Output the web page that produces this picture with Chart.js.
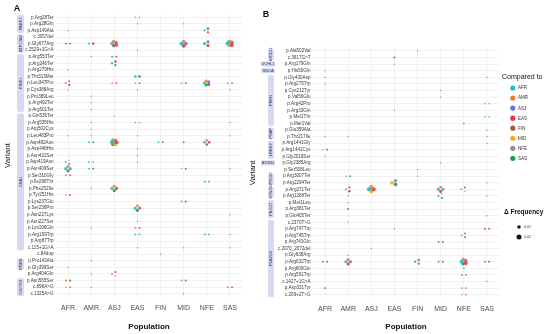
<!DOCTYPE html>
<html>
<head>
<meta charset="utf-8">
<script src="https://cdn.jsdelivr.net/npm/chart.js@4.4.0/dist/chart.umd.min.js"></script>
<style>
  body { margin: 0; background: #fff; width: 550px; height: 334px; overflow: hidden; position: relative; }
  #ca { position: absolute; left: 0; top: 0; }
  #cb { position: absolute; left: 245px; top: 0; }
</style>
</head>
<body>
<canvas id="ca" width="250" height="334"></canvas>
<canvas id="cb" width="305" height="334"></canvas>
<script>
const FONT = "'Liberation Sans', Arial, sans-serif";

// ----- categories -----
const populations = ['AFR', 'AMR', 'ASJ', 'EAS', 'FIN', 'MID', 'NFE', 'SAS'];
const comparedTo = ['AFR', 'AMR', 'ASJ', 'EAS', 'FIN', 'MID', 'NFE', 'SAS'];
const compColors = ['#20bfc8', '#ef7d30', '#6c6fe2', '#e5383d', '#a35a4f', '#f4ad2b', '#8f8f8f', '#1f9d4b'];
const sizeBreaks = [0.01, 0.02];

const variantsA = ['p.Arg28Ter', 'p.Arg28Gln', 'p.Asp149Ala', 'c.3057del', 'p.Gly677Arg', 'c.2529+1G>A',
  'p.Arg553Ter', 'p.Arg246Ter', 'p.Arg279His', 'p.Thr313Met', 'p.Leu347Pro', 'p.Cys388Arg', 'p.Pro389Leu',
  'p.Arg492Ter', 'p.Arg501Ter', 'p.Gln536Ter', 'p.Arg535His', 'p.Arg502Cys', 'p.Leu483Pro', 'p.Asp482Asn',
  'p.Asp448His', 'p.Asn431Ser', 'p.Asp419Asn', 'p.Asn409Ser', 'p.Ser310Gly', 'p.Ile298Thr', 'p.Phe252Ile',
  'p.Tyr251His', 'p.Lys237Glu', 'p.Ser236Pro', 'p.Asn227Lys', 'p.Asn227Ser', 'p.Lys196Gln', 'p.Arg159Trp',
  'p.Arg87Trp', 'c.115+1G>A', 'c.84dup', 'p.Pro143Ala', 'p.Gly399Ser', 'p.Arg404Gln', 'p.Asn565Ser',
  'c.896A>G', 'c.1325A>G'];
// gene, first row, last row
const genesA = [['PARK7', 0, 2], ['ATP13A2', 3, 5], ['PINK1', 6, 14], ['GBA1', 15, 35],
  ['PRKN', 37, 38], ['GIGYF2', 40, 42]];

const variantsB = ['p.Ala502Val', 'c.3617G>T', 'p.Arg179Gln', 'p.His50Gln', 'p.Gly430Asp', 'p.Arg275Trp',
  'p.Cys212Tyr', 'p.Val56Glu', 'p.Arg42Pro', 'p.Arg33Gln', 'p.Met1Thr', 'p.Met1Val', 'p.Glu359Ala',
  'p.Thr217Ile', 'p.Arg1441Gly', 'p.Arg1441Cys', 'p.Gly2019Ser', 'p.Gly2385Arg', 'p.Ser508Leu',
  'p.Arg3007Ter', 'p.Arg2294Ter', 'p.Arg271Ter', 'p.Arg1288Ter', 'p.Met1Leu', 'p.Arg381Ter', 'p.Glu405Ter',
  'c.2370T>G', 'p.Arg747Trp', 'p.Arg745Trp', 'p.Arg741Gln', 'c.2070_2072del', 'p.Gly638Arg', 'p.Arg632Trp',
  'p.Arg600Gln', 'p.Arg591Trp', 'c.1427+1G>A', 'p.Asp331Tyr', 'c.209+2T>G'];
const genesB = [['EIF4G1', 0, 1], ['UCHL1', 2, 2], ['SNCA', 3, 3], ['PRKN', 4, 11], ['PSAP', 12, 13],
  ['LRRK2', 14, 16], ['ATXN2', 17, 17], ['VPS13C', 19, 20], ['SYNJ1', 21, 22], ['FBXO7', 23, 25],
  ['PLA2G6', 26, 37]];

// ----- series: [variant, population, delta frequency] per "compared to" group -----
const afrA = [['p.Arg28Ter', 'EAS', 0.002], ['p.Asp149Ala', 'NFE', 0.004], ['p.Gly677Arg', 'AMR', 0.004],
  ['p.Gly677Arg', 'ASJ', 0.01], ['p.Gly677Arg', 'MID', 0.012], ['p.Gly677Arg', 'NFE', 0.008],
  ['p.Gly677Arg', 'SAS', 0.014], ['p.Arg553Ter', 'ASJ', 0.004], ['p.Arg246Ter', 'ASJ', 0.005],
  ['p.Thr313Met', 'EAS', 0.006], ['p.Leu347Pro', 'NFE', 0.008], ['p.Arg535His', 'EAS', 0.002],
  ['p.Arg535His', 'EAS', 0.002], ['p.Asp482Asn', 'AMR', 0.003], ['p.Asp482Asn', 'ASJ', 0.014],
  ['p.Asp482Asn', 'FIN', 0.003], ['p.Asp482Asn', 'NFE', 0.006], ['p.Asp419Asn', 'AFR', 0.003],
  ['p.Asp419Asn', 'AMR', 0.003], ['p.Asn409Ser', 'AFR', 0.008], ['p.Asn409Ser', 'AMR', 0.003],
  ['p.Ile298Thr', 'NFE', 0.004], ['p.Phe252Ile', 'ASJ', 0.008], ['p.Ser236Pro', 'EAS', 0.008],
  ['p.Arg159Trp', 'EAS', 0.003], ['p.Arg159Trp', 'EAS', 0.003], ['p.Arg159Trp', 'NFE', 0.003],
  ['p.Arg159Trp', 'NFE', 0.003]];
const amrA = [['p.Gly677Arg', 'ASJ', 0.01], ['p.Gly677Arg', 'MID', 0.01], ['p.Gly677Arg', 'SAS', 0.012],
  ['p.Leu347Pro', 'AFR', 0.004], ['p.Leu347Pro', 'ASJ', 0.003], ['p.Leu347Pro', 'EAS', 0.003],
  ['p.Leu347Pro', 'MID', 0.003], ['p.Leu347Pro', 'NFE', 0.008], ['p.Leu347Pro', 'SAS', 0.003],
  ['p.Asp482Asn', 'ASJ', 0.014], ['p.Asp482Asn', 'NFE', 0.005], ['p.Asn409Ser', 'AFR', 0.008],
  ['p.Ser310Gly', 'AFR', 0.003], ['p.Ile298Thr', 'NFE', 0.003], ['p.Phe252Ile', 'ASJ', 0.008],
  ['p.Tyr251His', 'AFR', 0.002], ['p.Lys237Glu', 'MID', 0.003], ['p.Ser236Pro', 'EAS', 0.006],
  ['p.Lys196Gln', 'EAS', 0.003], ['p.Arg404Gln', 'ASJ', 0.003], ['p.Asn565Ser', 'AFR', 0.004],
  ['p.Asn565Ser', 'MID', 0.003], ['c.896A>G', 'AFR', 0.002], ['c.896A>G', 'SAS', 0.003]];
const asjA = [['p.Asp149Ala', 'NFE', 0.006], ['p.Gly677Arg', 'ASJ', 0.008], ['p.Gly677Arg', 'MID', 0.01],
  ['p.Gly677Arg', 'NFE', 0.008], ['p.Gly677Arg', 'SAS', 0.012], ['p.Leu347Pro', 'AFR', 0.003],
  ['p.Leu347Pro', 'NFE', 0.008], ['p.Asp482Asn', 'ASJ', 0.01], ['p.Asn409Ser', 'AFR', 0.006]];
const easA = [['p.Asp149Ala', 'NFE', 0.004], ['p.Gly677Arg', 'AFR', 0.003], ['p.Gly677Arg', 'AMR', 0.005],
  ['p.Gly677Arg', 'ASJ', 0.012], ['p.Gly677Arg', 'MID', 0.012], ['p.Gly677Arg', 'NFE', 0.008],
  ['p.Gly677Arg', 'SAS', 0.014], ['p.Arg553Ter', 'ASJ', 0.003], ['p.Arg246Ter', 'ASJ', 0.005],
  ['p.Leu347Pro', 'AFR', 0.004], ['p.Leu347Pro', 'ASJ', 0.003], ['p.Leu347Pro', 'EAS', 0.003],
  ['p.Leu347Pro', 'MID', 0.003], ['p.Leu347Pro', 'NFE', 0.008], ['p.Leu347Pro', 'SAS', 0.003],
  ['p.Asp482Asn', 'ASJ', 0.012], ['p.Asp482Asn', 'NFE', 0.006], ['p.Asp419Asn', 'AMR', 0.002],
  ['p.Ser310Gly', 'AFR', 0.003], ['p.Phe252Ile', 'ASJ', 0.008], ['p.Tyr251His', 'AFR', 0.003],
  ['p.Lys237Glu', 'MID', 0.003], ['p.Ser236Pro', 'EAS', 0.006], ['p.Lys196Gln', 'EAS', 0.003],
  ['p.Arg404Gln', 'ASJ', 0.003], ['c.896A>G', 'AFR', 0.002], ['c.896A>G', 'SAS', 0.003]];
const finA = [['p.Gly677Arg', 'AFR', 0.003], ['p.Gly677Arg', 'ASJ', 0.008]];
const midA = [['p.Gly677Arg', 'SAS', 0.01], ['p.Asp482Asn', 'ASJ', 0.012]];
const nfeA = [['p.Arg28Ter', 'EAS', 0.002], ['p.Arg28Gln', 'EAS', 0.001], ['p.Arg28Gln', 'MID', 0.001],
  ['p.Asp149Ala', 'AFR', 0.001], ['c.2529+1G>A', 'EAS', 0.001], ['p.Arg553Ter', 'AMR', 0.001],
  ['p.Arg279His', 'AFR', 0.001], ['p.Cys388Arg', 'AFR', 0.001], ['p.Cys388Arg', 'EAS', 0.001],
  ['p.Cys388Arg', 'SAS', 0.001], ['p.Pro389Leu', 'AMR', 0.001], ['p.Arg492Ter', 'AMR', 0.001],
  ['p.Arg501Ter', 'AMR', 0.001], ['p.Gln536Ter', 'ASJ', 0.001], ['p.Arg535His', 'AMR', 0.001],
  ['p.Arg535His', 'SAS', 0.001], ['p.Arg502Cys', 'AMR', 0.001], ['p.Leu483Pro', 'AFR', 0.001],
  ['p.Leu483Pro', 'AMR', 0.001], ['p.Leu483Pro', 'EAS', 0.001], ['p.Leu483Pro', 'SAS', 0.001],
  ['p.Asp448His', 'EAS', 0.001], ['p.Asn431Ser', 'EAS', 0.001], ['p.Asp419Asn', 'AFR', 0.0015],
  ['p.Asp419Asn', 'EAS', 0.001], ['p.Asn409Ser', 'MID', 0.0015], ['p.Asn409Ser', 'SAS', 0.001],
  ['p.Phe252Ile', 'AMR', 0.001], ['p.Asn227Lys', 'SAS', 0.001], ['p.Asn227Ser', 'EAS', 0.001],
  ['p.Lys196Gln', 'AMR', 0.001], ['p.Arg159Trp', 'SAS', 0.001], ['c.115+1G>A', 'EAS', 0.001],
  ['c.115+1G>A', 'MID', 0.001], ['c.115+1G>A', 'SAS', 0.001], ['c.84dup', 'FIN', 0.001],
  ['p.Pro143Ala', 'AMR', 0.001], ['p.Gly399Ser', 'AFR', 0.001], ['p.Arg404Gln', 'AMR', 0.001],
  ['p.Arg404Gln', 'ASJ', 0.0015], ['c.896A>G', 'AMR', 0.001], ['c.1325A>G', 'MID', 0.001]];
const sasA = [['p.Arg246Ter', 'ASJ', 0.004], ['p.Thr313Met', 'EAS', 0.006], ['p.Leu347Pro', 'NFE', 0.006],
  ['p.Asp482Asn', 'AMR', 0.003], ['p.Asp482Asn', 'ASJ', 0.014], ['p.Asp482Asn', 'FIN', 0.003],
  ['p.Asp482Asn', 'MID', 0.003], ['p.Asp482Asn', 'NFE', 0.005], ['p.Asp419Asn', 'AFR', 0.003],
  ['p.Asn409Ser', 'AFR', 0.008], ['p.Asn409Ser', 'AMR', 0.003], ['p.Asn409Ser', 'MID', 0.003],
  ['p.Phe252Ile', 'ASJ', 0.008], ['p.Ser236Pro', 'EAS', 0.008], ['p.Asn565Ser', 'AFR', 0.004],
  ['p.Asn565Ser', 'MID', 0.003]];

const afrB = [['p.Arg42Pro', 'SAS', 0.002], ['p.Met1Thr', 'SAS', 0.002], ['p.Met1Thr', 'SAS', 0.002],
  ['p.Met1Val', 'NFE', 0.003], ['p.Arg271Ter', 'AMR', 0.004], ['p.Arg271Ter', 'ASJ', 0.014],
  ['p.Arg271Ter', 'MID', 0.008], ['p.Arg271Ter', 'NFE', 0.003], ['p.Arg1288Ter', 'MID', 0.004],
  ['p.Arg632Trp', 'AMR', 0.008], ['p.Arg632Trp', 'FIN', 0.005], ['p.Arg632Trp', 'NFE', 0.012],
  ['p.Arg600Gln', 'NFE', 0.003], ['p.Arg591Trp', 'NFE', 0.003], ['p.Arg591Trp', 'NFE', 0.003]];
const amrB = [['p.Arg271Ter', 'ASJ', 0.014], ['p.Arg271Ter', 'MID', 0.006], ['p.Arg745Trp', 'NFE', 0.003],
  ['p.Arg632Trp', 'AMR', 0.008], ['p.Arg632Trp', 'NFE', 0.012], ['p.Asp331Tyr', 'NFE', 0.003],
  ['c.209+2T>G', 'NFE', 0.002]];
const asjB = [['p.Arg271Ter', 'AMR', 0.004], ['p.Arg271Ter', 'MID', 0.006], ['p.Arg741Gln', 'MID', 0.003],
  ['p.Arg632Trp', 'AFR', 0.003], ['p.Arg632Trp', 'AMR', 0.008], ['p.Arg632Trp', 'FIN', 0.005],
  ['p.Arg632Trp', 'MID', 0.003], ['p.Arg632Trp', 'NFE', 0.01], ['p.Arg632Trp', 'SAS', 0.003]];
const easB = [['p.Arg271Ter', 'AMR', 0.005], ['p.Arg271Ter', 'ASJ', 0.014], ['p.Arg271Ter', 'MID', 0.008],
  ['p.Arg271Ter', 'NFE', 0.003], ['p.Arg747Trp', 'SAS', 0.003], ['p.Arg745Trp', 'NFE', 0.003],
  ['p.Arg741Gln', 'MID', 0.003], ['p.Arg632Trp', 'AFR', 0.003], ['p.Arg632Trp', 'AMR', 0.008],
  ['p.Arg632Trp', 'FIN', 0.004], ['p.Arg632Trp', 'MID', 0.003], ['p.Arg632Trp', 'NFE', 0.014],
  ['p.Arg632Trp', 'SAS', 0.003], ['p.Asp331Tyr', 'AFR', 0.003], ['p.Asp331Tyr', 'NFE', 0.002],
  ['c.209+2T>G', 'NFE', 0.002]];
const finB = [['p.Arg747Trp', 'SAS', 0.003]];
const midB = [['p.Arg271Ter', 'ASJ', 0.012], ['p.Arg2294Ter', 'EAS', 0.012]];
const nfeB = [['p.Ala502Val', 'FIN', 0.001], ['p.Arg179Gln', 'EAS', 0.001], ['p.His50Gln', 'AFR', 0.001],
  ['p.Gly430Asp', 'AFR', 0.001], ['p.Gly430Asp', 'SAS', 0.001], ['p.Arg275Trp', 'AFR', 0.001],
  ['p.Cys212Tyr', 'MID', 0.001], ['p.Val56Glu', 'MID', 0.001], ['p.Arg42Pro', 'SAS', 0.0015],
  ['p.Arg33Gln', 'EAS', 0.001], ['p.Glu359Ala', 'SAS', 0.001], ['p.Thr217Ile', 'AFR', 0.001],
  ['p.Thr217Ile', 'AMR', 0.001], ['p.Thr217Ile', 'SAS', 0.001], ['p.Arg1441Gly', 'SAS', 0.001],
  ['p.Arg1441Cys', 'AFR', 0.0015], ['p.Gly2019Ser', 'AFR', 0.001], ['p.Gly2385Arg', 'MID', 0.001],
  ['p.Ser508Leu', 'FIN', 0.001], ['p.Arg3007Ter', 'AMR', 0.0015], ['p.Arg3007Ter', 'FIN', 0.001],
  ['p.Arg2294Ter', 'EAS', 0.01], ['p.Arg2294Ter', 'SAS', 0.001], ['p.Arg271Ter', 'NFE', 0.0015],
  ['p.Arg1288Ter', 'AMR', 0.001], ['p.Arg1288Ter', 'MID', 0.002], ['p.Arg1288Ter', 'SAS', 0.001],
  ['p.Met1Leu', 'AMR', 0.001], ['p.Glu405Ter', 'SAS', 0.001], ['c.2370T>G', 'AMR', 0.001],
  ['p.Arg747Trp', 'EAS', 0.001], ['c.2070_2072del', 'ASJ', 0.001], ['p.Gly638Arg', 'AMR', 0.001],
  ['c.1427+1G>A', 'SAS', 0.001]];
const sasB = [['c.3617G>T', 'EAS', 0.003], ['p.Arg1441Cys', 'AFR', 0.003], ['p.Arg3007Ter', 'AMR', 0.003],
  ['p.Arg2294Ter', 'EAS', 0.01], ['p.Arg1288Ter', 'MID', 0.004], ['p.Arg381Ter', 'AMR', 0.003],
  ['p.Arg745Trp', 'NFE', 0.003], ['p.Arg632Trp', 'NFE', 0.01]];

const seriesA = [afrA, amrA, asjA, easA, finA, midA, nfeA, sasA];
const seriesB = [afrB, amrB, asjB, easB, finB, midB, nfeB, sasB];

function radius(d) { return Math.max(0.75, 2.5 * Math.sqrt(d / 0.02)); }

// dodge points that share a variant/population cell (like a small position_dodge)
function buildPoints(variants, series) {
  const pts = [];
  series.forEach((list, k) => list.forEach(([v, p, d]) => {
    pts.push({ k, vi: variants.indexOf(v), pi: populations.indexOf(p), d });
  }));
  const cells = {};
  pts.forEach(pt => { (cells[pt.vi + '|' + pt.pi] = cells[pt.vi + '|' + pt.pi] || []).push(pt); });
  Object.values(cells).forEach(g => {
    const n = g.length;
    g.forEach((pt, i) => {
      let dx = 0, dy = 0;
      if (n === 2) dx = (i === 0 ? -1 : 1) * 0.09;
      else if (n > 2) {
        const a = Math.PI + i * 2 * Math.PI / n;
        dx = Math.cos(a) * 0.1;
        dy = Math.sin(a) * 0.33;
      }
      pt.x = pt.pi + dx;
      pt.y = pt.vi + dy;
    });
  });
  return comparedTo.map((c, k) => pts.filter(pt => pt.k === k));
}

function drawStrips(chart, genes, stripX, stripW, wideX, wideW) {
  const ctx = chart.ctx, ys = chart.scales.y;
  const step = Math.abs(ys.getPixelForValue(1) - ys.getPixelForValue(0));
  ctx.save();
  genes.forEach(([name, a, b]) => {
    const top = ys.getPixelForValue(a) - step / 2 + 0.7;
    const bot = ys.getPixelForValue(b) + step / 2 - 0.7;
    ctx.fillStyle = '#d6daf0';
    ctx.beginPath();
    if (a === b && wideW) {
      ctx.roundRect(wideX, top, wideW, bot - top, 1.5);
      ctx.fill();
      ctx.fillStyle = '#2f3563';
      ctx.font = '4px ' + FONT;
      ctx.textAlign = 'center';
      ctx.textBaseline = 'middle';
      ctx.fillText(name, wideX + wideW / 2, (top + bot) / 2 + 0.2);
    } else {
      ctx.roundRect(stripX, top, stripW, bot - top, 2);
      ctx.fill();
      ctx.save();
      ctx.translate(stripX + stripW / 2, (top + bot) / 2);
      ctx.rotate(-Math.PI / 2);
      ctx.fillStyle = '#2f3563';
      ctx.font = '4px ' + FONT;
      ctx.textAlign = 'center';
      ctx.textBaseline = 'middle';
      ctx.fillText(name, 0, 0.3);
      ctx.restore();
    }
  });
  ctx.restore();
}

function drawTitles(chart, letter, lx, ly, varX) {
  const ctx = chart.ctx, ca = chart.chartArea;
  ctx.save();
  ctx.fillStyle = '#111';
  ctx.font = 'bold 9px ' + FONT;
  ctx.textAlign = 'center';
  ctx.textBaseline = 'middle';
  ctx.fillText(letter, lx, ly);
  ctx.font = 'bold 8px ' + FONT;
  ctx.fillText('Population', (ca.left + ca.right) / 2, 327);
  ctx.translate(varX, (ca.top + ca.bottom) / 2);
  ctx.rotate(-Math.PI / 2);
  ctx.font = '8px ' + FONT;
  ctx.fillText('Variant', 0, 0);
  ctx.restore();
}

function drawLegend(chart) {
  const ctx = chart.ctx;
  ctx.save();
  ctx.fillStyle = '#111';
  ctx.textBaseline = 'middle';
  ctx.textAlign = 'left';
  ctx.font = '7px ' + FONT;
  ctx.fillText('Compared to', 257, 77);
  comparedTo.forEach((c, i) => {
    const y = 88 + i * 10.05;
    ctx.fillStyle = compColors[i];
    ctx.beginPath();
    ctx.arc(267.8, y, 2.6, 0, Math.PI * 2);
    ctx.fill();
    ctx.fillStyle = '#333';
    ctx.font = '4.5px ' + FONT;
    ctx.fillText(c, 273, y + 0.2);
  });
  ctx.fillStyle = '#111';
  ctx.font = 'bold 6.5px ' + FONT;
  ctx.fillText('\u0394 Frequency', 259, 212);
  sizeBreaks.forEach((s, i) => {
    const y = 227 + i * 10;
    ctx.fillStyle = '#111';
    ctx.beginPath();
    ctx.arc(274, y, radius(s), 0, Math.PI * 2);
    ctx.fill();
    ctx.fillStyle = '#333';
    ctx.font = '3.6px ' + FONT;
    ctx.fillText(s.toFixed(2), 279, y + 0.2);
  });
  ctx.restore();
}

function makeChart(id, variants, series, cfg) {
  const sets = buildPoints(variants, series);
  return new Chart(document.getElementById(id), {
    type: 'scatter',
    data: {
      datasets: comparedTo.map((c, k) => ({
        label: c,
        data: sets[k],
        backgroundColor: compColors[k] + 'e6',
        borderWidth: 0,
        pointRadius: ctx => radius(ctx.raw.d),
        pointHoverRadius: ctx => radius(ctx.raw.d)
      }))
    },
    options: {
      responsive: false,
      animation: false,
      events: [],
      layout: { padding: cfg.padding },
      plugins: { legend: { display: false }, tooltip: { enabled: false } },
      scales: {
        x: {
          type: 'linear', min: -0.52, max: 7.52,
          afterBuildTicks: s => { s.ticks = populations.map((p, i) => ({ value: i })); },
          afterFit: s => { s.height = cfg.xHeight; },
          ticks: { callback: v => populations[v], color: '#4d4d4d', padding: 7, maxRotation: 0,
            autoSkip: false, font: { family: FONT, size: 7 } },
          grid: { color: '#ebebeb', lineWidth: 0.7, drawTicks: false },
          border: { display: false }
        },
        y: {
          type: 'linear', reverse: true, min: -0.5, max: variants.length - 0.5,
          afterBuildTicks: s => { s.ticks = variants.map((v, i) => ({ value: i })); },
          afterFit: s => { s.width = cfg.yWidth; },
          ticks: { callback: v => variants[v], color: '#3a3a3a', padding: 2.5, autoSkip: false,
            font: { family: FONT, size: 4.6 } },
          grid: { color: '#ebebeb', lineWidth: 0.7, drawTicks: false },
          border: { display: false }
        }
      }
    },
    plugins: [{
      id: 'decor',
      afterDraw: chart => {
        drawStrips(chart, cfg.genes, cfg.stripX, cfg.stripW, cfg.wideX, cfg.wideW);
        drawTitles(chart, cfg.letter, cfg.letterX, cfg.letterY, cfg.varX);
        if (cfg.legend) drawLegend(chart);
      }
    }]
  });
}

makeChart('ca', variantsA, seriesA, {
  padding: { left: 0, right: 8, top: 14, bottom: 0 }, xHeight: 37, yWidth: 56,
  genes: genesA, stripX: 17, stripW: 7, letter: 'A', letterX: 17, letterY: 9, varX: 8
});
makeChart('cb', variantsB, seriesB, {
  padding: { left: 0, right: 51, top: 47.7, bottom: 0 }, xHeight: 36, yWidth: 68,
  genes: genesB, stripX: 23, stripW: 6, wideX: 16, wideW: 14, letter: 'B', letterX: 21, letterY: 15, varX: 7.5,
  legend: true
});
</script>
</body>
</html>
